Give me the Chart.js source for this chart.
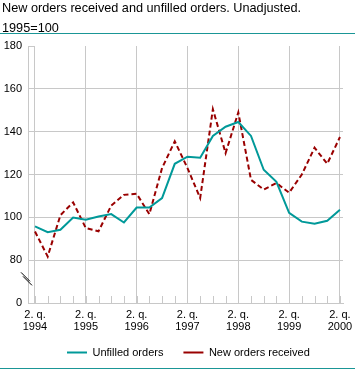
<!DOCTYPE html>
<html><head><meta charset="utf-8">
<script src="https://cdn.jsdelivr.net/npm/chart.js@4.4.0/dist/chart.umd.min.js"></script>
<style>html,body{margin:0;padding:0;background:#fff}canvas{display:block}</style>
</head><body>
<canvas id="c" width="355" height="370"></canvas>
<script>
const titleLines = ['New orders received and unfilled orders. Unadjusted.', '1995=100'];
const categories = ['1994K2','1994K3','1994K4','1995K1','1995K2','1995K3','1995K4','1996K1','1996K2','1996K3','1996K4','1997K1','1997K2','1997K3','1997K4','1998K1','1998K2','1998K3','1998K4','1999K1','1999K2','1999K3','1999K4','2000K1','2000K2'];
const unfilledOrders = [95.8, 93.1, 94.2, 99.9, 98.9, 100.4, 101.5, 97.6, 104.6, 104.6, 109, 125, 128.3, 127.8, 138, 142.3, 144.5, 138, 122.2, 116.6, 102.1, 98, 97, 98.4, 103.5];
const newOrdersReceived = [93.4, 81.7, 101, 107, 95, 93.5, 105.5, 110.5, 111, 101.5, 123, 135.5, 123, 109, 150.5, 130, 149, 117.5, 113, 116, 111.5, 120, 132.5, 125, 137.5];
const seriesNames = ['Unfilled orders', 'New orders received'];
const yTickValues = [80, 100, 120, 140, 160, 180];
const yBreakLabel = '0';

const GRID = '#c8c8c8';
const TEAL = '#009999';
const RED = '#990000';
const FONT = '"Liberation Sans", Arial, sans-serif';
const Y_BREAK = 60;

const decor = {
  id: 'decor',
  beforeDraw(chart) {
    const lg = chart.legend;
    if (lg) {
      const p = lg.options.labels.padding;
      lg.left = 67 - p;
      lg.right = chart.width - 12;
      lg.top = 352.5 - p - 5.5;
      lg.bottom = chart.height - 2;
      lg.width = lg.right - lg.left;
      lg.height = lg.bottom - lg.top;
    }
    const ctx = chart.ctx;
    ctx.save();
    ctx.fillStyle = '#fff';
    ctx.fillRect(0, 0, chart.width, chart.height);
    ctx.restore();
  },
  afterDraw(chart) {
    const ctx = chart.ctx;
    const xs = chart.scales.x, ys = chart.scales.y;
    const a = chart.chartArea;
    ctx.save();
    // title
    ctx.fillStyle = '#000';
    ctx.font = '12.7px ' + FONT;
    ctx.textBaseline = 'alphabetic';
    ctx.textAlign = 'left';
    ctx.fillText(titleLines[0], 2, 12);
    ctx.fillText(titleLines[1], 2, 32);
    // separators
    ctx.fillStyle = '#1a9696';
    ctx.fillRect(0, 33, chart.width, 1);
    ctx.fillRect(0, 368, chart.width, 1);
    // inner quarter ticks
    ctx.strokeStyle = GRID;
    ctx.lineWidth = 1;
    ctx.beginPath();
    categories.forEach((c, i) => {
      const x = Math.round(xs.getPixelForValue(i)) + 0.5;
      ctx.moveTo(x, a.bottom);
      ctx.lineTo(x, a.bottom - 7);
    });
    const yt = Math.round(ys.getPixelForValue(180)) + 0.5;
    ctx.moveTo(a.left, yt);
    ctx.lineTo(a.left + 6, yt);
    ctx.stroke();
    // axis break symbol
    const yb = ys.getPixelForValue(Y_BREAK + 11.5);
    ctx.strokeStyle = '#000';
    ctx.beginPath();
    ctx.moveTo(a.left - 7, yb - 6); ctx.lineTo(a.left + 2, yb + 3);
    ctx.moveTo(a.left - 5, yb - 2); ctx.lineTo(a.left + 4, yb + 7);
    ctx.stroke();
    ctx.restore();
  }
};

new Chart(document.getElementById('c'), {
  type: 'line',
  data: {
    datasets: [
      { label: seriesNames[0], data: unfilledOrders.map((v, i) => ({x: i, y: v})),
        borderColor: TEAL, backgroundColor: TEAL, borderWidth: 2, pointRadius: 0, fill: false, tension: 0 },
      { label: seriesNames[1], data: newOrdersReceived.map((v, i) => ({x: i, y: v})),
        borderColor: RED, backgroundColor: RED, borderWidth: 2, borderDash: [5, 3], pointRadius: 0, fill: false, tension: 0 }
    ]
  },
  options: {
    responsive: false,
    animation: false,
    layout: { padding: { top: 46, left: 0, right: 12, bottom: 0 } },
    plugins: {
      title: { display: false },
      tooltip: { enabled: false },
      legend: {
        position: 'bottom',
        align: 'start',
        maxHeight: 29,
        labels: {
          usePointStyle: true,
          pointStyle: 'line',
          pointStyleWidth: 20,
          padding: 20,
          color: '#000',
          font: { family: FONT, size: 11 }
        }
      }
    },
    scales: {
      x: {
        type: 'linear',
        min: -0.55,
        max: 24.24,
        afterBuildTicks: (s) => { s.ticks = categories.map((c, i) => ({ value: i })); },
        afterFit: (s) => { s.height = 38; s.paddingLeft = 0; s.paddingRight = 0; },
        grid: {
          color: (ctx) => (ctx.tick && categories[ctx.tick.value] && categories[ctx.tick.value].endsWith('K2')) ? GRID : 'rgba(0,0,0,0)',
          drawTicks: false
        },
        border: { display: true, color: GRID },
        ticks: {
          autoSkip: false, maxRotation: 0, minRotation: 0, padding: 6,
          color: '#000',
          font: { family: FONT, size: 11, lineHeight: 1.1 },
          callback: (v) => {
            const c = categories[v];
            return (c && c.endsWith('K2')) ? ['2. q.', c.slice(0, 4)] : '';
          }
        }
      },
      y: {
        type: 'linear',
        min: Y_BREAK,
        max: 180,
        afterBuildTicks: (s) => { s.ticks = [Y_BREAK].concat(yTickValues).map(v => ({ value: v })); },
        afterFit: (s) => { s.width = 28; },
        grid: {
          color: (ctx) => (ctx.tick && ctx.tick.value > Y_BREAK && ctx.tick.value < 180) ? GRID : 'rgba(0,0,0,0)',
          drawTicks: false
        },
        border: { display: true, color: GRID },
        ticks: {
          padding: 6, color: '#000',
          font: { family: FONT, size: 11 },
          callback: (v) => v === Y_BREAK ? yBreakLabel : String(v)
        }
      }
    }
  },
  plugins: [decor]
});
</script>
</body></html>
